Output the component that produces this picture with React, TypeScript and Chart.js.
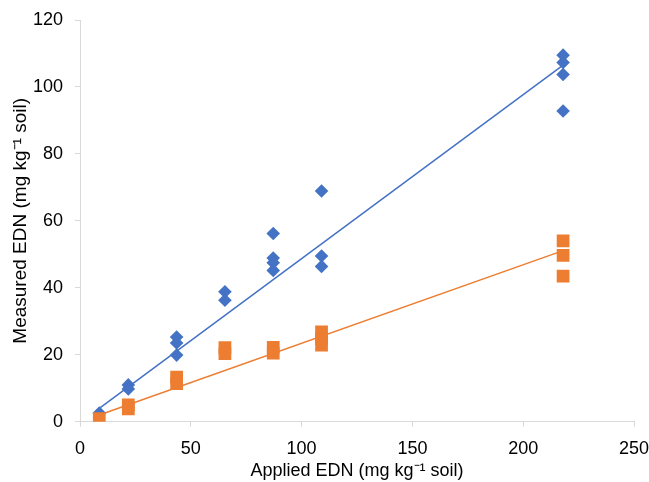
import React, { useEffect, useRef } from "react";
import { Chart, registerables } from "chart.js";

Chart.register(...registerables);

const appliedBlue = [8.7, 21.8, 21.8, 43.6, 43.6, 43.6, 65.4, 65.4, 87.2, 87.2, 87.2, 87.2, 109, 109, 109, 218, 218, 218, 218];
const measuredBlue = [2.6, 11.0, 9.8, 25.3, 23.5, 19.9, 38.8, 36.3, 56.2, 48.9, 47.5, 45.2, 68.9, 49.5, 46.4, 109.5, 107.3, 103.7, 92.8];

const appliedOrange = [8.7, 21.8, 21.8, 43.6, 43.6, 65.4, 65.4, 87.2, 87.2, 109, 109, 109, 218, 218, 218];
const measuredOrange = [0.9, 5.0, 3.8, 13.3, 11.4, 22.1, 20.3, 22.2, 20.5, 26.8, 24.8, 22.9, 54.0, 49.7, 43.5];

// Linear trend lines (end points)
const trendX = [8.7, 218];
const blueTrendY = [4.0, 106.5];
const orangeTrendY = [2.0, 51.1];

const xTicks = [0, 50, 100, 150, 200, 250];
const yTicks = [0, 20, 40, 60, 80, 100, 120];

const BLUE = "#4472C4";
const ORANGE = "#ED7D31";
const AXIS = "#d9d9d9";
const FONT = "'Liberation Sans', Arial, sans-serif";

const toPoints = (xs: number[], ys: number[]) => xs.map((x, i) => ({ x, y: ys[i] }));

export default function App() {
  const ref = useRef<HTMLCanvasElement | null>(null);

  useEffect(() => {
    if (!ref.current) return;
    const chart = new Chart(ref.current, {
      type: "scatter",
      data: {
        datasets: [
          {
            label: "Orange",
            data: toPoints(appliedOrange, measuredOrange),
            pointStyle: "rect",
            pointRadius: 9,
            backgroundColor: ORANGE,
            borderColor: ORANGE,
            borderWidth: 0,
            showLine: false,
          },
          {
            label: "Blue",
            data: toPoints(appliedBlue, measuredBlue),
            pointStyle: "rectRot",
            pointRadius: 6.8,
            backgroundColor: BLUE,
            borderColor: BLUE,
            borderWidth: 0,
            showLine: false,
          },
          {
            label: "Orange trend",
            data: toPoints(trendX, orangeTrendY),
            showLine: true,
            pointRadius: 0,
            borderColor: ORANGE,
            borderWidth: 1.5,
            fill: false,
          },
          {
            label: "Blue trend",
            data: toPoints(trendX, blueTrendY),
            showLine: true,
            pointRadius: 0,
            borderColor: BLUE,
            borderWidth: 1.5,
            fill: false,
          },
        ],
      },
      options: {
        animation: false,
        responsive: false,
        layout: { padding: { top: 20, right: 15, left: 0, bottom: 0 } },
        plugins: { legend: { display: false }, tooltip: { enabled: false } },
        scales: {
          x: {
            type: "linear",
            min: 0,
            max: 250,
            afterBuildTicks: (s: any) => {
              s.ticks = xTicks.map((v) => ({ value: v }));
            },
            afterFit: (s: any) => {
              s.height = 60.3;
              s.paddingLeft = 0;
              s.paddingRight = 0;
            },
            grid: { drawOnChartArea: false, drawTicks: true, tickLength: 5, color: AXIS },
            border: { display: true, color: AXIS, width: 1 },
            ticks: { color: "#000", padding: 12, font: { family: FONT, size: 18 } },
            title: {
              display: true,
              text: "Applied EDN (mg kg\u207B\u00B9 soil)",
              color: "#000",
              font: { family: FONT, size: 18 },
              padding: { top: 0, bottom: 0 },
            },
          },
          y: {
            type: "linear",
            min: 0,
            max: 120,
            afterBuildTicks: (s: any) => {
              s.ticks = yTicks.map((v) => ({ value: v }));
            },
            afterFit: (s: any) => {
              s.width = 80;
              s.paddingTop = 0;
              s.paddingBottom = 0;
            },
            grid: { drawOnChartArea: false, drawTicks: true, tickLength: 5, color: AXIS },
            border: { display: true, color: AXIS, width: 1 },
            ticks: { color: "#000", padding: 12, font: { family: FONT, size: 18 } },
            title: {
              display: true,
              text: "Measured EDN (mg kg\u207B\u00B9 soil)",
              color: "#000",
              font: { family: FONT, size: 19 },
              padding: { top: 9, bottom: 0 },
            },
          },
        },
      },
    });
    return () => chart.destroy();
  }, []);

  return (
    <div style={{ position: "fixed", left: 0, top: 0, width: 649, height: 482, background: "#fff" }}>
      <canvas ref={ref} width={649} height={482} />
    </div>
  );
}
